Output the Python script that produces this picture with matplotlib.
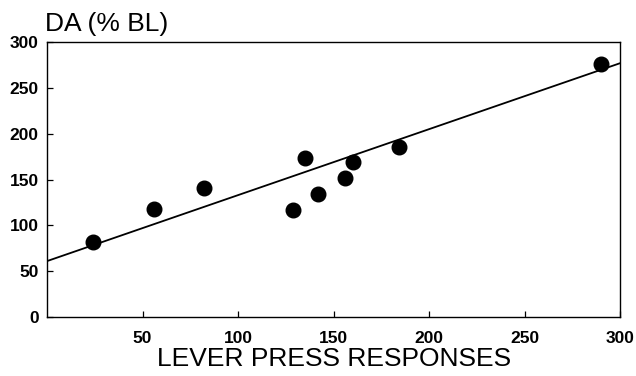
import numpy as np
import matplotlib
matplotlib.use("Agg")
import matplotlib.pyplot as plt

plt.rcParams.update({"font.family": "Liberation Sans"})

# data
lever_presses = [24, 56, 82, 129, 135, 142, 156, 160, 184, 290]
da_pct_bl = [82, 118, 141, 117, 174, 134, 152, 169, 185, 276]
fit_x = [0, 300]
fit_y = [61, 277]

xticks = [50, 100, 150, 200, 250, 300]
yticks = [0, 50, 100, 150, 200, 250, 300]

fig = plt.figure(figsize=(6.36, 3.76), dpi=100)
ax = fig.add_axes([0.074, 0.157, 0.901, 0.731])

ax.plot(fit_x, fit_y, color="black", lw=1.3)
ax.plot(lever_presses, da_pct_bl, "o", color="black", ms=10.5)

ax.set_xlim(0, 300)
ax.set_ylim(0, 300)
ax.set_xticks(xticks)
ax.set_yticks(yticks)
ax.tick_params(direction="in", length=4, width=0.9, labelsize=12.5)
ax.tick_params(axis="x", pad=10)
ax.tick_params(axis="y", pad=6)
for lbl in ax.get_xticklabels() + ax.get_yticklabels():
    lbl.set_fontweight("bold")
for s in ax.spines.values():
    s.set_linewidth(1.0)

ax.set_xlabel("LEVER PRESS RESPONSES", fontsize=19, labelpad=1)
fig.text(0.07, 0.937, "DA (% BL)", fontsize=19, ha="left", va="center")

fig.savefig("out.png", dpi=100)
